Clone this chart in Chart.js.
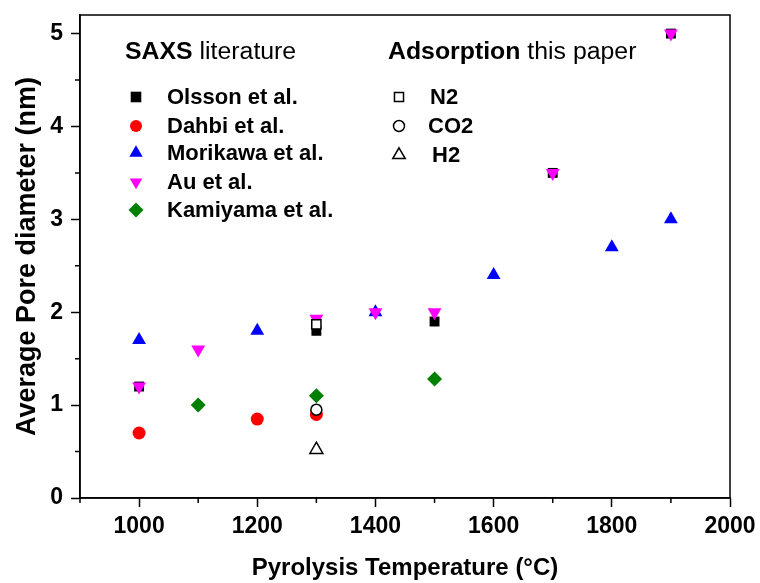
<!DOCTYPE html>
<html>
<head>
<meta charset="utf-8">
<script src="https://cdn.jsdelivr.net/npm/chart.js@4.4.1/dist/chart.umd.min.js"></script>
<style>
  html, body { margin: 0; padding: 0; background: #fff; }
</style>
</head>
<body>
<canvas id="c" width="760" height="583"></canvas>
<script>
var FONT = '"Liberation Sans", Arial, Helvetica, sans-serif';

// pyrolysis temperature (°C) / average pore diameter (nm)
var olssonT   = [1000, 1300, 1500, 1700, 1900];
var olssonD   = [1.2, 1.8, 1.9, 3.5, 5.0];
var dahbiT    = [1000, 1200, 1300];
var dahbiD    = [0.7, 0.85, 0.9];
var morikawaT = [1000, 1200, 1400, 1600, 1800, 1900];
var morikawaD = [1.7, 1.8, 2.0, 2.4, 2.7, 3.0];
var auT       = [1000, 1100, 1300, 1400, 1500, 1700, 1900];
var auD       = [1.2, 1.6, 1.93, 2.0, 2.0, 3.5, 5.0];
var kamiyamaT = [1100, 1300, 1500];
var kamiyamaD = [1.0, 1.1, 1.28];
// adsorption, this paper
var n2T  = [1300];
var n2D  = [1.87];
var co2T = [1300];
var co2D = [0.95];
var h2T  = [1300];
var h2D  = [0.52];

var xTickVals  = [1000, 1200, 1400, 1600, 1800, 2000];
var xMinorVals = [900, 1100, 1300, 1500, 1700, 1900];
var yTickVals  = [0, 1, 2, 3, 4, 5];
var yMinorVals = [0.5, 1.5, 2.5, 3.5, 4.5];

// r = plot marker radius, lr = legend marker radius
var series = [
  {label: 'Olsson et al.',   t: olssonT,   d: olssonD,   style: 'rect',     rot: 0,   r: 7,   lr: 7.5, fill: '#000000', line: '#000000', bw: 0},
  {label: 'Dahbi et al.',    t: dahbiT,    d: dahbiD,    style: 'circle',   rot: 0,   r: 6.5, lr: 6,   fill: '#ff0000', line: '#ff0000', bw: 0},
  {label: 'Morikawa et al.', t: morikawaT, d: morikawaD, style: 'triangle', rot: 0,   r: 8,   lr: 7.7, fill: '#0000ff', line: '#0000ff', bw: 0},
  {label: 'Au et al.',       t: auT,       d: auD,       style: 'triangle', rot: 180, r: 8,   lr: 7.2, fill: '#ff00ff', line: '#ff00ff', bw: 0},
  {label: 'Kamiyama et al.', t: kamiyamaT, d: kamiyamaD, style: 'rectRot',  rot: 0,   r: 7.5, lr: 7.5, fill: '#008000', line: '#008000', bw: 0},
  {label: 'N2',  t: n2T,  d: n2D,  style: 'rect',     rot: 0, r: 6.5, lr: 6.4, fill: '#ffffff', line: '#000000', bw: 1.5},
  {label: 'CO2', t: co2T, d: co2D, style: 'circle',   rot: 0, r: 5.5, lr: 5.5, fill: '#ffffff', line: '#000000', bw: 1.5},
  {label: 'H2',  t: h2T,  d: h2D,  style: 'triangle', rot: 0, r: 7.5, lr: 7.2, fill: '#ffffff', line: '#000000', bw: 1.5}
];

function pts(t, d) {
  return t.map(function(v, i) { return {x: v, y: d[i]}; });
}

var datasets = series.map(function(s, i) {
  return {
    label: s.label,
    data: pts(s.t, s.d),
    showLine: false,
    pointStyle: s.style,
    pointRotation: s.rot,
    pointRadius: s.r,
    pointHoverRadius: s.r,
    pointBackgroundColor: s.fill,
    pointBorderColor: s.line,
    pointBorderWidth: s.bw,
    order: series.length - i
  };
});

function marker(ctx, s, x, y) {
  ctx.fillStyle = s.fill;
  ctx.strokeStyle = s.line;
  ctx.lineWidth = s.bw;
  Chart.helpers.drawPoint(ctx, {pointStyle: s.style, rotation: s.rot, radius: s.lr, borderWidth: s.bw}, x, y);
}

// the headings in the original are set a little wider than plain Arial
function heading(ctx, boldPart, rest, x, y) {
  ctx.save();
  ctx.translate(x, y);
  ctx.scale(1.08, 1);
  ctx.font = 'bold 23px ' + FONT;
  ctx.fillText(boldPart, 0, 0);
  var w = ctx.measureText(boldPart).width;
  ctx.font = '23px ' + FONT;
  ctx.fillText(' ' + rest, w, 0);
  ctx.restore();
}

var frameAndLegend = {
  id: 'frameAndLegend',
  beforeDatasetsDraw: function(chart) {
    var ctx = chart.ctx, a = chart.chartArea;
    var xs = chart.scales.x, ys = chart.scales.y;
    ctx.save();
    ctx.strokeStyle = '#000';
    ctx.lineWidth = 1.5;
    ctx.strokeRect(a.left, a.top, a.right - a.left, a.bottom - a.top);
    // minor ticks
    ctx.beginPath();
    xMinorVals.forEach(function(v) {
      var px = xs.getPixelForValue(v);
      ctx.moveTo(px, a.bottom);
      ctx.lineTo(px, a.bottom + 5);
    });
    yMinorVals.forEach(function(v) {
      var py = ys.getPixelForValue(v);
      ctx.moveTo(a.left, py);
      ctx.lineTo(a.left - 5, py);
    });
    ctx.stroke();
    ctx.restore();
  },
  afterDraw: function(chart) {
    var ctx = chart.ctx;
    ctx.save();
    ctx.fillStyle = '#000';
    ctx.textBaseline = 'alphabetic';
    ctx.textAlign = 'left';
    heading(ctx, 'SAXS', 'literature', 125, 59);
    heading(ctx, 'Adsorption', 'this paper', 388, 59);

    var rowsL = [97, 126, 153, 182, 210];
    var rowsR = [97, 126, 155];
    var textR = [430, 428, 432];
    ctx.font = 'bold 22px ' + FONT;
    ctx.textBaseline = 'middle';
    for (var i = 0; i < 5; i++) {
      marker(ctx, series[i], 136, rowsL[i]);
      ctx.fillStyle = '#000';
      ctx.fillText(series[i].label, 167, rowsL[i] + 1);
    }
    for (var j = 0; j < 3; j++) {
      var s = series[5 + j];
      marker(ctx, s, 399, rowsR[j]);
      ctx.fillStyle = '#000';
      ctx.fillText(s.label, textR[j], rowsR[j] + 1);
    }
    ctx.restore();
  }
};

new Chart(document.getElementById('c'), {
  type: 'scatter',
  data: {datasets: datasets},
  options: {
    responsive: false,
    animation: false,
    layout: {padding: {top: 15, right: 30, left: 0, bottom: 0}},
    plugins: {legend: {display: false}, tooltip: {enabled: false}},
    scales: {
      x: {
        type: 'linear',
        min: 900,
        max: 2000,
        afterBuildTicks: function(scale) {
          scale.ticks = xTickVals.map(function(v) { return {value: v}; });
        },
        afterFit: function(scale) {
          scale.height = 85;
          scale.paddingLeft = 0;
          scale.paddingRight = 0;
        },
        grid: {drawOnChartArea: false, tickLength: 9, tickWidth: 1.5, tickColor: '#000'},
        border: {color: '#000', width: 1.5},
        ticks: {
          color: '#000',
          padding: 6,
          maxRotation: 0,
          autoSkip: false,
          font: {family: FONT, size: 23, weight: 'bold'},
          callback: function(v) { return String(v); }
        },
        title: {
          display: true,
          text: 'Pyrolysis Temperature (°C)',
          color: '#000',
          font: {family: FONT, size: 24, weight: 'bold'},
          padding: {top: 0, bottom: 0}
        }
      },
      y: {
        type: 'linear',
        min: 0,
        max: 5.2,
        afterBuildTicks: function(scale) {
          scale.ticks = yTickVals.map(function(v) { return {value: v}; });
        },
        afterFit: function(scale) {
          scale.width = 80;
          scale.paddingTop = 0;
          scale.paddingBottom = 0;
        },
        grid: {drawOnChartArea: false, tickLength: 9, tickWidth: 1.5, tickColor: '#000'},
        border: {color: '#000', width: 1.5},
        ticks: {
          color: '#000',
          padding: 8,
          autoSkip: false,
          font: {family: FONT, size: 23, weight: 'bold'},
          callback: function(v) { return String(v); }
        },
        title: {
          display: true,
          text: 'Average Pore diameter (nm)',
          color: '#000',
          font: {family: FONT, size: 27, weight: 'bold'},
          padding: {top: 11, bottom: 0}
        }
      }
    }
  },
  plugins: [frameAndLegend]
});
</script>
</body>
</html>
